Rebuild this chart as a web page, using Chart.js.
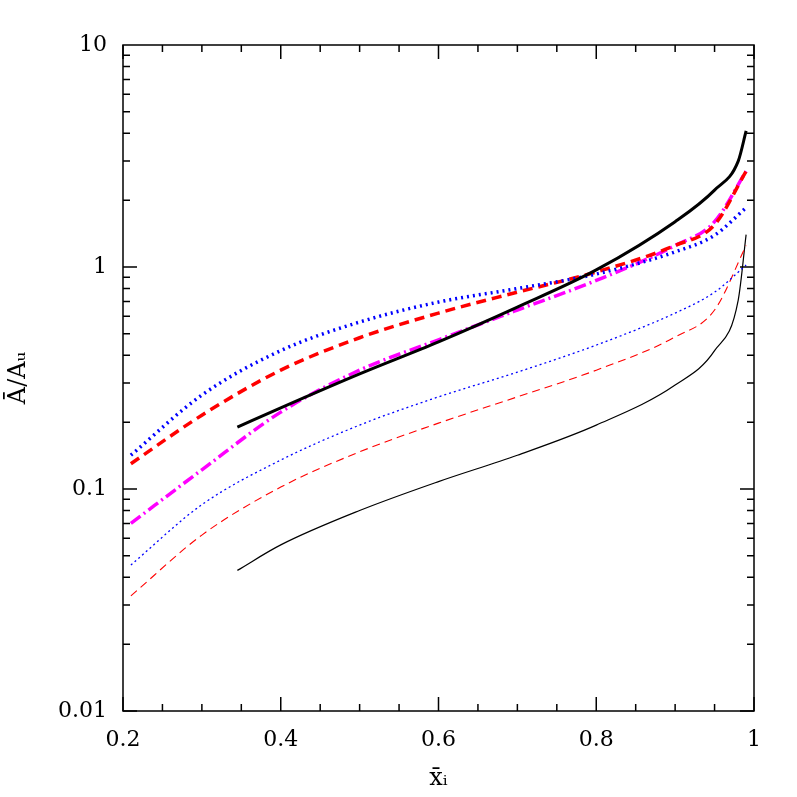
<!DOCTYPE html>
<html><head><meta charset="utf-8">
<script src="https://cdn.jsdelivr.net/npm/chart.js@4"></script>
<style>body{margin:0;background:#fff}#w{width:797px;height:797px}</style>
</head><body><div id="w"><canvas id="c"></canvas></div>
<script>
const xs=[0.21,0.3,0.4,0.5,0.6,0.7,0.8,0.9,0.95,0.99];
const xsB=[0.345,0.4,0.5,0.6,0.7,0.8,0.9,0.95,0.98,0.99];
const thickBlack=[0.19,0.232,0.33,0.46,0.66,0.97,1.6,2.22,3.0,4.1];
const thickBlue=[0.142,0.265,0.42,0.565,0.695,0.80,0.93,1.17,1.39,1.85];
const thickRed=[0.13,0.215,0.343,0.48,0.62,0.77,0.95,1.25,1.55,2.7];
const magenta=[0.070,0.122,0.222,0.343,0.47,0.64,0.87,1.25,1.6,2.7];
const thinBlue=[0.0455,0.085,0.135,0.194,0.26,0.336,0.445,0.62,0.77,1.02];
const thinRed=[0.033,0.062,0.102,0.147,0.198,0.26,0.343,0.484,0.64,1.25];
const thinBlack=[0.043,0.056,0.080,0.108,0.142,0.194,0.294,0.42,0.71,1.4];
const xTickLabels=[0.2,0.4,0.6,0.8,1];
const yTickLabels=[0.01,0.1,1,10];
const pts=(x,y)=>x.map((v,i)=>({x:v,y:y[i]}));
const ds=(x,y,c,w,dash)=>({data:pts(x,y),borderColor:c,borderWidth:w,borderDash:dash,pointRadius:0,cubicInterpolationMode:'monotone',fill:false});
const font={family:'"DejaVu Serif","Liberation Serif",serif',size:22};
const frame={id:'frame',afterDraw(ch){const c=ch.ctx,a=ch.chartArea,X=ch.scales.x,Y=ch.scales.y;
c.save();c.strokeStyle='#000';c.lineWidth=1.5;c.strokeRect(a.left,a.top,a.right-a.left,a.bottom-a.top);
for(let k=4;k<=20;k++){const v=k*0.05,p=X.getPixelForValue(v),L=(k%4===0)?14:7;
c.beginPath();c.moveTo(p,a.bottom);c.lineTo(p,a.bottom-L);c.moveTo(p,a.top);c.lineTo(p,a.top+L);c.stroke();}
for(let e=-2;e<1;e++)for(let m=1;m<=9;m++){const v=m*Math.pow(10,e),p=Y.getPixelForValue(v),L=m===1?14:7;
c.beginPath();c.moveTo(a.left,p);c.lineTo(a.left+L,p);c.moveTo(a.right,p);c.lineTo(a.right-L,p);c.stroke();}
c.restore();}};
new Chart(document.getElementById('c'),{type:'line',
data:{datasets:[
ds(xsB,thickBlack,'#000',3,[]),
ds(xs,thickBlue,'#0000ff',3.5,[2,4]),
ds(xs,thickRed,'#ff0000',3.5,[10,6]),
ds(xs,magenta,'#ff00ff',3.5,[12,4,2,4]),
ds(xs,thinBlue,'#0000ff',1.3,[2,3]),
ds(xs,thinRed,'#ff0000',1.1,[8,5]),
ds(xsB,thinBlack,'#000',1.2,[])]},
plugins:[frame],
options:{responsive:true,maintainAspectRatio:false,animation:false,
layout:{padding:{top:45,right:43,left:0,bottom:0}},
plugins:{legend:{display:false},tooltip:{enabled:false}},
scales:{
x:{type:'linear',min:0.2,max:1,grid:{display:false},border:{display:false},
afterBuildTicks:s=>{s.ticks=xTickLabels.map(v=>({value:v}));},
afterFit:s=>{s.height=86;},
ticks:{color:'#000',font,padding:8,maxRotation:0,callback:v=>String(v)},
title:{display:true,text:'x̄ᵢ',color:'#000',font:{family:font.family,size:24},padding:{top:2}}},
y:{type:'logarithmic',min:0.01,max:10,grid:{display:false},border:{display:false},
afterBuildTicks:s=>{s.ticks=yTickLabels.map(v=>({value:v}));},
afterFit:s=>{s.width=123;},
ticks:{color:'#000',font,padding:8,callback:v=>String(v)},
title:{display:true,text:'Ā/Aᵤ',color:'#000',font:{family:font.family,size:24},padding:{bottom:4}}}}}});
</script></body></html>
